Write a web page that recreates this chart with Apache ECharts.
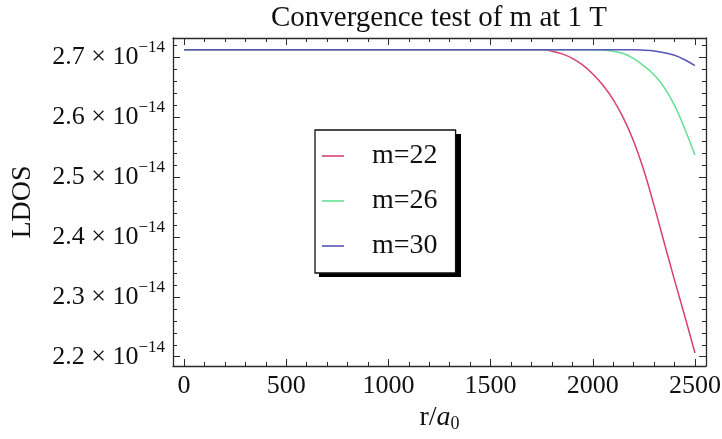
<!DOCTYPE html>
<html>
<head>
<meta charset="utf-8">
<script src="https://cdn.jsdelivr.net/npm/echarts@6/dist/echarts.min.js"></script>
<style>
html,body{margin:0;padding:0;background:#fff;}
#chart{width:722px;height:439px;}
</style>
</head>
<body>
<div id="chart"></div>
<script>
// r / a0 sample positions
const r = [0, 500, 1000, 1500, 1700, 1750, 1800, 1850, 1900, 1950, 2000, 2050, 2100, 2150, 2200, 2250, 2300, 2350, 2400, 2450, 2500];
// LDOS values, in units of 10^-14
const m22 = [2.713, 2.713, 2.713, 2.713, 2.7130, 2.7128, 2.7105, 2.7060, 2.6985, 2.6875, 2.6725, 2.6535, 2.6295, 2.5985, 2.5600, 2.5110, 2.4525, 2.3900, 2.3280, 2.2680, 2.2062];
const m26 = [2.713, 2.713, 2.713, 2.713, 2.713, 2.713, 2.713, 2.713, 2.713, 2.713, 2.7130, 2.7125, 2.7105, 2.7065, 2.6980, 2.6860, 2.6710, 2.6495, 2.6200, 2.5810, 2.5370];
const m30 = [2.713, 2.713, 2.713, 2.713, 2.713, 2.713, 2.713, 2.713, 2.713, 2.713, 2.713, 2.713, 2.713, 2.713, 2.7130, 2.7122, 2.7107, 2.7078, 2.7037, 2.6962, 2.6862];
const seriesNames = ['m=22', 'm=26', 'm=30'];
const xTickLabels = [0, 500, 1000, 1500, 2000, 2500];
const yTickLabels = [2.2, 2.3, 2.4, 2.5, 2.6, 2.7]; // ×10^-14

const xMinor = [];
for (let k = 1; k <= 24; k++) { if (k % 5 !== 0) xMinor.push(k * 100); }
const yMinor = [];
for (let k = 110; k <= 136; k++) { if (k % 5 !== 0) yMinor.push(k / 50); }

const X_MIN = -54, X_MAX = 2554, Y_MIN = 2.1845, Y_MAX = 2.7325;
const FONT = '"Liberation Serif", "Times New Roman", serif';
const frameColor = '#2a2a2a';
const colors = ['#d8416c', '#66e094', '#5656b8'];

function xAx(position, ticks, len, labels, line) {
  return {
    type: 'value', position: position, min: X_MIN, max: X_MAX,
    splitLine: {show: false},
    axisLine: {show: line, onZero: false, lineStyle: {color: frameColor, width: 1.3}},
    axisTick: {show: true, inside: true, length: len, customValues: ticks, lineStyle: {color: frameColor, width: 1}},
    axisLabel: labels ? {
      show: true, customValues: ticks, margin: 7, color: '#111',
      fontFamily: FONT, fontSize: 26,
      formatter: v => String(v)
    } : {show: false}
  };
}
function yAx(position, ticks, len, labels, line) {
  return {
    type: 'value', position: position, min: Y_MIN, max: Y_MAX,
    splitLine: {show: false},
    axisLine: {show: line, onZero: false, lineStyle: {color: frameColor, width: 1.3}},
    axisTick: {show: true, inside: true, length: len, customValues: ticks, lineStyle: {color: frameColor, width: 1}},
    axisLabel: labels ? {
      show: true, customValues: ticks, margin: 8, color: '#111',
      formatter: v => '{b|' + v.toFixed(1) + ' \u00d7 10}{s|\u221214}',
      rich: {
        b: {fontFamily: FONT, fontSize: 26, lineHeight: 36, color: '#111'},
        s: {fontFamily: FONT, fontSize: 17, lineHeight: 16, verticalAlign: 'top', color: '#111'}
      }
    } : {show: false}
  };
}

const xAxes = [
  xAx('bottom', xTickLabels, 7, true, true),
  xAx('bottom', xMinor, 4, false, false),
  xAx('top', xTickLabels, 7, false, true),
  xAx('top', xMinor, 4, false, false)
];
xAxes[0].name = '{n|r/}{i|a}{sub|0}';
xAxes[0].nameLocation = 'middle';
xAxes[0].nameGap = 30;
xAxes[0].nameTextStyle = {
  rich: {
    n: {fontFamily: FONT, fontSize: 28, color: '#111', lineHeight: 30},
    i: {fontFamily: FONT, fontSize: 28, fontStyle: 'italic', color: '#111', lineHeight: 30},
    sub: {fontFamily: FONT, fontSize: 18, color: '#111', lineHeight: 22, verticalAlign: 'bottom'}
  }
};
const yAxes = [
  yAx('left', yTickLabels, 7, true, true),
  yAx('left', yMinor, 4, false, false),
  yAx('right', yTickLabels, 7, false, true),
  yAx('right', yMinor, 4, false, false)
];
yAxes[0].name = 'LDOS';
yAxes[0].nameLocation = 'middle';
yAxes[0].nameGap = 136;
yAxes[0].nameTextStyle = {fontFamily: FONT, fontSize: 28, color: '#111'};

const allSeries = [m22, m26, m30].map((vals, i) => ({
  name: seriesNames[i],
  type: 'line',
  xAxisIndex: 0, yAxisIndex: 0,
  data: r.map((x, j) => [x, vals[j]]),
  smooth: 0.4,
  symbol: 'none',
  lineStyle: {color: colors[i], width: 1.5},
  itemStyle: {color: colors[i]},
  animation: false
}));

const chart = echarts.init(document.getElementById('chart'), null, {renderer: 'canvas'});
chart.setOption({
  backgroundColor: '#fff',
  animation: false,
  title: {
    text: 'Convergence test of m at 1 T',
    left: 439, top: 4, textAlign: 'center', padding: 0,
    textStyle: {fontFamily: FONT, fontSize: 29, fontWeight: 'normal', color: '#111'}
  },
  grid: {left: 173, right: 16, top: 38, bottom: 73, containLabel: false, outerBoundsMode: 'none'},
  graphic: [{
    type: 'rect', z: 3, silent: true,
    shape: {x: 319, y: 134, width: 142, height: 143},
    style: {fill: '#000'}
  }],
  legend: {
    data: seriesNames.map(n => ({name: n, icon: 'rect'})),
    orient: 'vertical',
    left: 315, top: 130,
    padding: [12, 18, 13, 7],
    itemGap: 17,
    itemWidth: 22, itemHeight: 1.6,
    backgroundColor: '#fff',
    borderColor: '#111', borderWidth: 1.3,
    z: 5,
    textStyle: {fontFamily: FONT, fontSize: 28, color: '#111', padding: [0, 0, 0, 23]},
    selectedMode: false
  },
  xAxis: xAxes,
  yAxis: yAxes,
  series: allSeries
});
</script>
</body>
</html>
